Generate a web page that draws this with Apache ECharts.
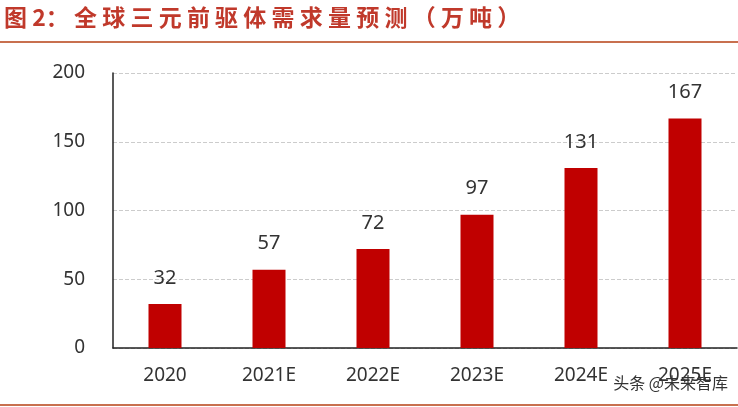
<!DOCTYPE html><html><head><meta charset="utf-8"><script src="https://cdn.jsdelivr.net/npm/echarts@6/dist/echarts.min.js"></script>
<style>body{margin:0}#c{width:738px;height:407px}</style></head><body><div id="c"></div><script>
const categories=['2020','2021E','2022E','2023E','2024E','2025E'];
const values=[32,57,72,97,131,167];
const yTicks=[0,50,100,150,200];
const c=echarts.init(document.getElementById('c'));
c.setOption({
 animation:false,
 graphic:[
  {type:'text',left:4,top:6,style:{text:'图 2： 全 球 三 元 前 驱 体 需 求 量 预 测 （ 万 吨 ）',font:'bold 23px "Noto Sans CJK SC"',fill:'#c0392b'}},
  {type:'rect',shape:{x:0,y:41,width:738,height:2},style:{fill:'#c8704f'}},
  {type:'rect',shape:{x:0,y:404,width:738,height:2},style:{fill:'#c8704f'}},
  {type:'text',right:10,top:375,style:{text:'头条 @未来智库',font:'16px "Noto Sans CJK SC"',fill:'#333'}}
 ],
 grid:{left:113,right:1,top:73,bottom:59},
 xAxis:{type:'category',data:categories,axisTick:{show:false},axisLine:{lineStyle:{color:'#222',width:1.5}},
  axisLabel:{fontSize:19,color:'#333',margin:18,fontFamily:'Noto Sans'}},
 yAxis:{type:'value',min:0,max:200,interval:50,axisLine:{show:true,lineStyle:{color:'#222',width:1.5}},
  splitLine:{lineStyle:{type:'dashed',color:'#ccc'}},axisLabel:{fontSize:19,color:'#333',margin:28,fontFamily:'Noto Sans'}},
 series:[{type:'bar',data:values,barWidth:33,itemStyle:{color:'#c00000'},
  label:{show:true,position:'top',distance:16,fontSize:20,color:'#333',fontFamily:'Noto Sans'}}]
});
</script></body></html>
